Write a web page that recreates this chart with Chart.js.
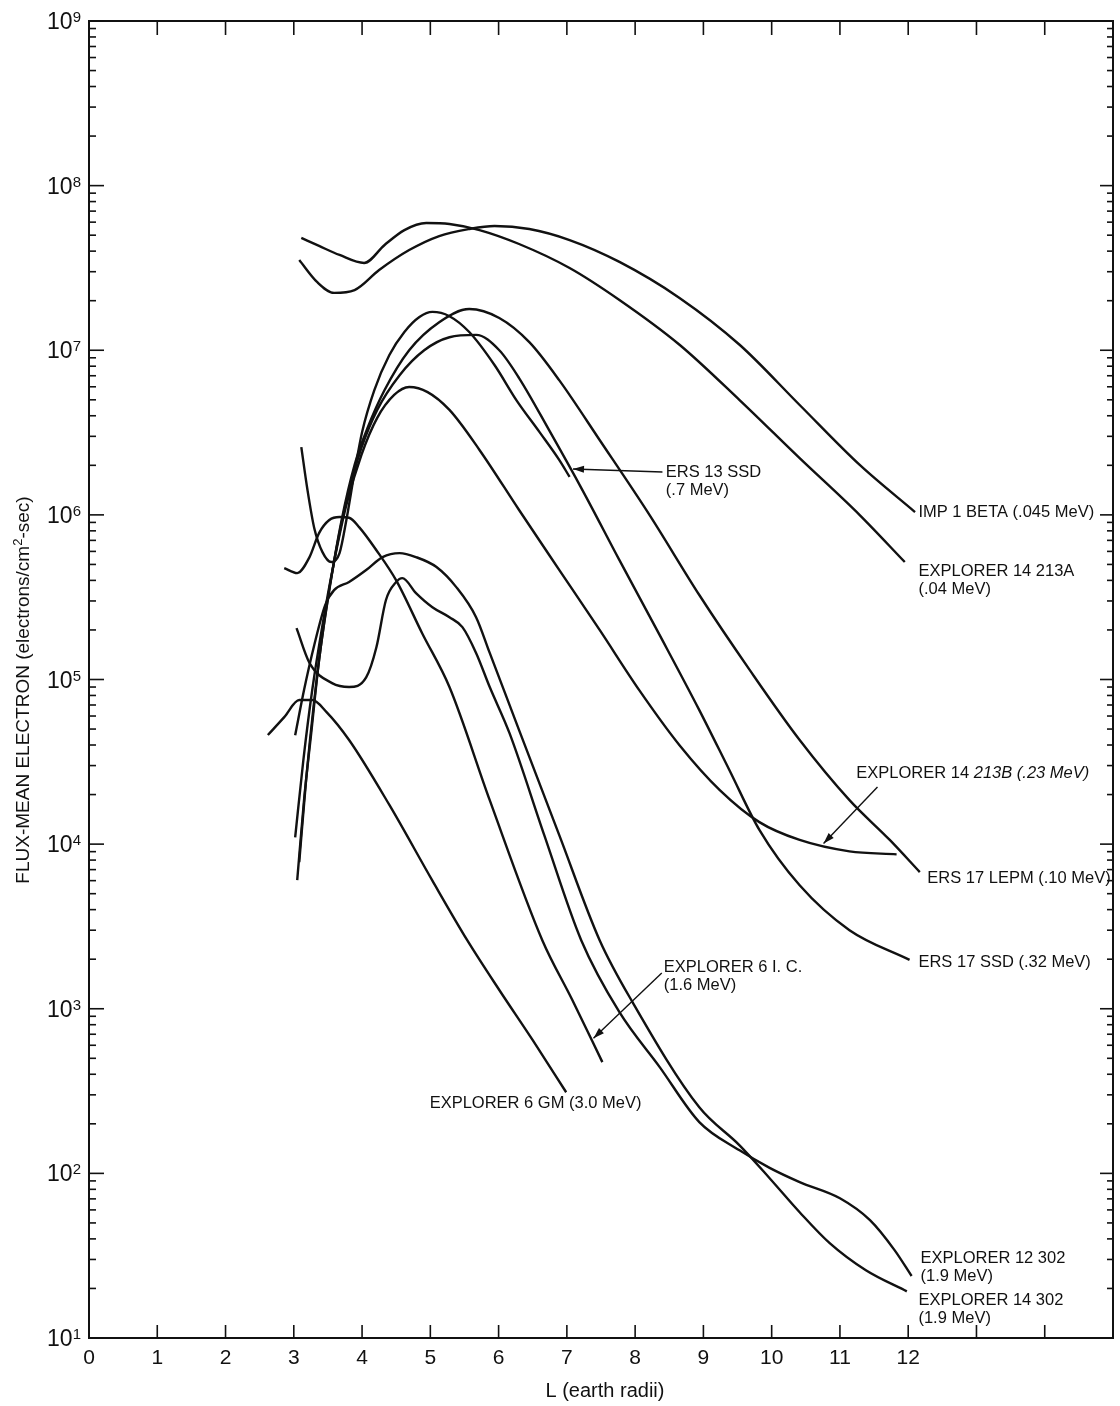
<!DOCTYPE html>
<html>
<head>
<meta charset="utf-8">
<script src="https://cdn.jsdelivr.net/npm/chart.js@4.4.1/dist/chart.umd.min.js"></script>
<style>
  html, body { margin: 0; padding: 0; background: #fff; }
</style>
</head>
<body>
<canvas id="fluxChart" width="1120" height="1406"></canvas>
<script>
/* ── Flux-mean electron intensity vs L, one curve per instrument ───── */

// L (earth radii) and flux (electrons/cm²-sec) for each curve
const imp1BetaL    = [3.08, 3.34, 3.59, 3.89, 4.25, 4.69, 5.13, 5.57, 5.94, 6.45, 7.04, 7.77, 8.65, 9.53, 10.41, 11.29, 12.10];
const imp1BetaFlux = [3.53e7, 2.6e7, 2.23e7, 2.32e7, 3.07e7, 4.06e7, 4.94e7, 5.45e7, 5.69e7, 5.45e7, 4.67e7, 3.44e7, 2.08e7, 1.08e7, 4.65e6, 2.01e6, 1.04e6];

const exp14aL    = [3.11, 3.37, 3.67, 4.03, 4.33, 4.62, 4.94, 5.28, 5.72, 6.30, 7.04, 7.77, 8.65, 9.53, 10.41, 11.29, 11.95];
const exp14aFlux = [4.81e7, 4.3e7, 3.79e7, 3.39e7, 4.36e7, 5.37e7, 5.93e7, 5.85e7, 5.37e7, 4.42e7, 3.16e7, 2.02e7, 1.08e7, 4.98e6, 2.21e6, 9.97e5, 5.17e5];

const ers13SsdL    = [3.11, 3.20, 3.30, 3.42, 3.55, 3.67, 3.77, 3.89, 4.00, 4.18, 4.40, 4.62, 4.84, 5.03, 5.28, 5.57, 5.94, 6.26, 6.60, 6.89, 7.04];
const ers13SsdFlux = [2.58e6, 1.42e6, 8.3e5, 5.94e5, 5.17e5, 5.86e5, 9.3e5, 1.82e6, 3.18e6, 5.73e6, 9.35e6, 1.29e7, 1.59e7, 1.71e7, 1.61e7, 1.29e7, 8.13e6, 4.98e6, 3.18e6, 2.15e6, 1.70e6];

const ers17LepmL    = [3.05, 3.15, 3.26, 3.37, 3.52, 3.70, 3.89, 4.08, 4.33, 4.69, 5.13, 5.57, 6.01, 6.45, 6.89, 7.48, 8.21, 8.94, 9.68, 10.41, 11.14, 11.73, 12.17];
const ers17LepmFlux = [6.04e3, 1.85e4, 4.93e4, 1.31e5, 3.49e5, 9.29e5, 2.01e6, 3.37e6, 5.73e6, 1.0e7, 1.48e7, 1.78e7, 1.57e7, 1.12e7, 6.56e6, 2.85e6, 1.0e6, 3.26e5, 1.14e5, 4.29e4, 1.85e4, 1.06e4, 6.76e3];

const ers17SsdL    = [3.08, 3.18, 3.30, 3.45, 3.62, 3.81, 3.99, 4.22, 4.55, 4.91, 5.28, 5.67, 6.01, 6.30, 6.74, 7.23, 7.77, 8.36, 8.94, 9.38, 9.82, 10.41, 11.14, 12.02];
const ers17SsdFlux = [7.78e3, 2.45e4, 7.5e4, 2.3e5, 6.11e5, 1.42e6, 2.55e6, 4.33e6, 7.06e6, 1.0e7, 1.2e7, 1.24e7, 1.0e7, 6.78e6, 3.27e6, 1.41e6, 5.31e5, 1.86e5, 6.52e4, 2.82e4, 1.22e4, 5.62e3, 3.0e3, 1.98e3];

const exp14bL    = [3.02, 3.14, 3.27, 3.42, 3.58, 3.77, 3.99, 4.22, 4.47, 4.69, 4.96, 5.28, 5.72, 6.30, 6.89, 7.48, 8.06, 8.65, 9.24, 9.82, 10.41, 11.14, 11.83];
const exp14bFlux = [1.1e4, 3.24e4, 8.63e4, 2.14e5, 4.95e5, 1.15e6, 2.31e6, 3.87e6, 5.35e6, 5.98e6, 5.57e6, 4.34e6, 2.48e6, 1.07e6, 4.62e5, 2.0e5, 8.62e4, 3.99e4, 2.13e4, 1.36e4, 1.06e4, 9.04e3, 8.67e3];

const exp6IcL    = [2.86, 3.05, 3.23, 3.37, 3.52, 3.67, 3.81, 3.96, 4.21, 4.50, 4.88, 5.28, 5.87, 6.64, 7.08, 7.52];
const exp6IcFlux = [4.75e5, 4.43e5, 5.54e5, 7.75e5, 9.3e5, 9.7e5, 9.6e5, 8.4e5, 6.1e5, 4.0e5, 1.91e5, 9.0e4, 1.85e4, 2.61e3, 1.13e3, 474];

const exp6GmL    = [2.62, 2.86, 3.08, 3.27, 3.48, 3.81, 4.40, 5.03, 5.54, 6.01, 6.50, 6.99];
const exp6GmFlux = [4.6e4, 5.91e4, 7.5e4, 7.5e4, 6.34e4, 4.29e4, 1.73e4, 6.0e3, 2.61e3, 1.30e3, 644, 311];

const exp12_302L    = [3.04, 3.23, 3.56, 3.81, 4.06, 4.21, 4.35, 4.50, 4.59, 4.79, 5.03, 5.28, 5.47, 5.67, 5.87, 6.16, 6.67, 7.21, 7.77, 8.36, 8.94, 9.53, 9.97, 10.41, 11.00, 11.44, 11.80, 12.05];
const exp12_302Flux = [2.05e5, 1.26e5, 9.51e4, 9.0e4, 1.03e5, 1.57e5, 3.04e5, 3.91e5, 4.13e5, 3.35e5, 2.75e5, 2.39e5, 2.08e5, 1.45e5, 9.0e4, 4.72e4, 1.13e4, 2.61e3, 953, 442, 205, 138, 108, 88.5, 70.6, 52.0, 34.2, 23.8];

const exp14_302L    = [3.02, 3.15, 3.30, 3.46, 3.59, 3.81, 4.06, 4.30, 4.55, 4.79, 5.09, 5.38, 5.67, 5.87, 6.30, 6.89, 7.48, 7.96, 8.94, 9.53, 9.97, 10.41, 10.85, 11.38, 11.98];
const exp14_302Flux = [4.59e4, 8.63e4, 1.62e5, 2.83e5, 3.49e5, 3.91e5, 4.62e5, 5.54e5, 5.86e5, 5.54e5, 4.82e5, 3.64e5, 2.39e5, 1.45e5, 4.93e4, 1.13e4, 2.61e3, 1.10e3, 252, 148, 93.5, 58.1, 37.7, 25.8, 19.2];

// Axis ranges and labelled ticks
const L_MIN = 0, L_MAX = 15;
const L_TICK_LABELS = [0, 1, 2, 3, 4, 5, 6, 7, 8, 9, 10, 11, 12];
const FLUX_EXPONENTS = [1, 2, 3, 4, 5, 6, 7, 8, 9];

// Curve captions: lines of text, anchored at (L, flux) of the first line
const curveLabels = [
  { lines: ['IMP 1 BETA (.045 MeV)'],            L: 12.15, flux: 1.04e6 },
  { lines: ['EXPLORER 14 213A', '(.04 MeV)'],    L: 12.15, flux: 4.56e5 },
  { lines: ['ERS 13 SSD', '(.7 MeV)'],           L: 8.45,  flux: 1.82e6 },
  { lines: ['EXPLORER 14 213B (.23 MeV)'],       L: 11.24, flux: 2.7e4, italicFrom: 12 },
  { lines: ['ERS 17 LEPM (.10 MeV)'],            L: 12.28, flux: 6.21e3 },
  { lines: ['ERS 17 SSD (.32 MeV)'],             L: 12.15, flux: 1.92e3 },
  { lines: ['EXPLORER 6 I. C.', '(1.6 MeV)'],    L: 8.42,  flux: 1.77e3 },
  { lines: ['EXPLORER 6 GM (3.0 MeV)'],          L: 4.99,  flux: 267 },
  { lines: ['EXPLORER 12 302', '(1.9 MeV)'],     L: 12.18, flux: 30.5 },
  { lines: ['EXPLORER 14 302', '(1.9 MeV)'],     L: 12.15, flux: 17.0 },
];

// Leader arrows from a caption to its curve (head at the "to" end)
const leaderArrows = [
  { from: [8.40, 1.82e6], to: [7.09, 1.9e6] },
  { from: [11.55, 2.22e4], to: [10.76, 1.01e4] },
  { from: [8.39, 1.65e3], to: [7.39, 662] },
];

const curves = [
  [imp1BetaL, imp1BetaFlux], [exp14aL, exp14aFlux], [ers13SsdL, ers13SsdFlux],
  [ers17LepmL, ers17LepmFlux], [ers17SsdL, ers17SsdFlux], [exp14bL, exp14bFlux],
  [exp6IcL, exp6IcFlux], [exp6GmL, exp6GmFlux], [exp12_302L, exp12_302Flux],
  [exp14_302L, exp14_302Flux],
];

const INK  = '#111';
const FONT = '"Liberation Sans", Arial, sans-serif';

// ── Frame, inward ticks, tick labels, titles and captions ───────────
const figureFrame = {
  id: 'figureFrame',
  afterDraw(chart) {
    const { ctx, chartArea: a, scales: { x, y } } = chart;
    const seg = (x1, y1, x2, y2) => { ctx.beginPath(); ctx.moveTo(x1, y1); ctx.lineTo(x2, y2); ctx.stroke(); };
    ctx.save();
    ctx.strokeStyle = INK;
    ctx.fillStyle = INK;
    ctx.lineWidth = 2;
    ctx.strokeRect(a.left, a.top, a.right - a.left, a.bottom - a.top);

    // integer L ticks on bottom and top edges
    ctx.lineWidth = 1.6;
    for (let v = L_MIN + 1; v < L_MAX; v++) {
      const px = x.getPixelForValue(v);
      seg(px, a.bottom, px, a.bottom - 13);
      seg(px, a.top, px, a.top + 14);
    }
    // decade + minor ticks on left and right edges
    for (let e = FLUX_EXPONENTS[0]; e <= FLUX_EXPONENTS[FLUX_EXPONENTS.length - 1]; e++) {
      for (let m = 1; m <= 9; m++) {
        if (e === 9 && m > 1) break;
        const py = y.getPixelForValue(m * Math.pow(10, e));
        const major = m === 1;
        seg(a.left, py, a.left + (major ? 15 : 7), py);
        seg(a.right, py, a.right - (major ? 13 : 6), py);
      }
    }

    // L tick labels
    ctx.font = `21px ${FONT}`;
    ctx.textAlign = 'center';
    ctx.textBaseline = 'alphabetic';
    L_TICK_LABELS.forEach(v => ctx.fillText(String(v), x.getPixelForValue(v), a.bottom + 26));

    // flux tick labels as 10 with a raised exponent
    FLUX_EXPONENTS.forEach(e => {
      const py = y.getPixelForValue(Math.pow(10, e));
      ctx.font = `15px ${FONT}`;
      const supW = ctx.measureText(String(e)).width;
      ctx.font = `23px ${FONT}`;
      const baseW = ctx.measureText('10').width;
      const right = a.left - 8;
      ctx.textAlign = 'left';
      ctx.fillText('10', right - supW - baseW, py + 8);
      ctx.font = `15px ${FONT}`;
      ctx.fillText(String(e), right - supW, py + 1);
    });

    // axis titles
    ctx.font = `20px ${FONT}`;
    ctx.textAlign = 'center';
    ctx.fillText('L (earth radii)', 605, a.bottom + 59);

    ctx.save();
    ctx.translate(29, 690);
    ctx.rotate(-Math.PI / 2);
    const parts = [['FLUX-MEAN ELECTRON (electrons/cm', 19, 0], ['2', 13, -7], ['-sec)', 19, 0]];
    let total = 0;
    parts.forEach(([t, s]) => { ctx.font = `${s}px ${FONT}`; total += ctx.measureText(t).width; });
    let cx = -total / 2;
    ctx.textAlign = 'left';
    parts.forEach(([t, s, dy]) => {
      ctx.font = `${s}px ${FONT}`;
      ctx.fillText(t, cx, dy);
      cx += ctx.measureText(t).width;
    });
    ctx.restore();

    // curve captions
    ctx.textAlign = 'left';
    ctx.textBaseline = 'middle';
    curveLabels.forEach(lab => {
      const px = x.getPixelForValue(lab.L);
      const py = y.getPixelForValue(lab.flux);
      lab.lines.forEach((t, i) => {
        if (lab.italicFrom != null && i === 0) {
          const head = t.slice(0, lab.italicFrom), tail = t.slice(lab.italicFrom);
          ctx.font = `16.5px ${FONT}`;
          ctx.fillText(head, px, py);
          const w = ctx.measureText(head).width;
          ctx.font = `italic 16.5px ${FONT}`;
          ctx.fillText(tail, px + w, py);
        } else {
          ctx.font = `16.5px ${FONT}`;
          ctx.fillText(t, px, py + i * 18);
        }
      });
    });

    // leader arrows
    ctx.lineWidth = 1.4;
    leaderArrows.forEach(ar => {
      const x1 = x.getPixelForValue(ar.from[0]), y1 = y.getPixelForValue(ar.from[1]);
      const x2 = x.getPixelForValue(ar.to[0]),   y2 = y.getPixelForValue(ar.to[1]);
      seg(x1, y1, x2, y2);
      const ang = Math.atan2(y2 - y1, x2 - x1);
      const len = 11, half = 3.5;
      ctx.beginPath();
      ctx.moveTo(x2, y2);
      ctx.lineTo(x2 - len * Math.cos(ang) + half * Math.sin(ang), y2 - len * Math.sin(ang) - half * Math.cos(ang));
      ctx.lineTo(x2 - len * Math.cos(ang) - half * Math.sin(ang), y2 - len * Math.sin(ang) + half * Math.cos(ang));
      ctx.closePath();
      ctx.fill();
    });
    ctx.restore();
  }
};

new Chart(document.getElementById('fluxChart'), {
  type: 'line',
  data: {
    datasets: curves.map(([Ls, fluxes]) => ({
      data: Ls.map((L, i) => ({ x: L, y: fluxes[i] })),
      borderColor: INK,
      borderWidth: 2.4,
      pointRadius: 0,
      fill: false,
      cubicInterpolationMode: 'monotone',
    })),
  },
  options: {
    responsive: false,
    animation: false,
    layout: { padding: { left: 89, right: 7, top: 21, bottom: 68 } },
    scales: {
      x: { type: 'linear', min: L_MIN, max: L_MAX, display: false },
      y: { type: 'logarithmic', min: 10, max: 1e9, display: false },
    },
    plugins: { legend: { display: false }, tooltip: { enabled: false } },
  },
  plugins: [figureFrame],
});
</script>
</body>
</html>
